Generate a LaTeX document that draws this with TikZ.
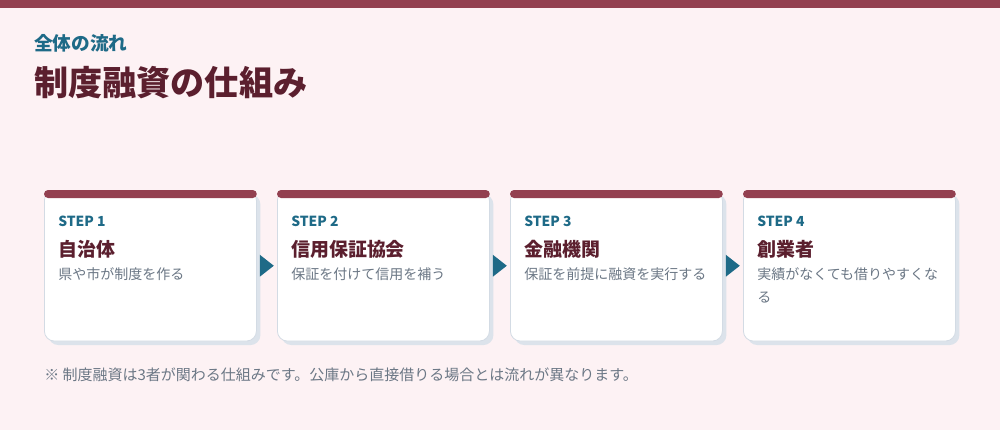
\documentclass[tikz,border=0pt]{standalone}
\usepackage{fontspec}
\setmainfont{Noto Sans CJK JP}
\usetikzlibrary{shadows}
\definecolor{bgc}{HTML}{FDF2F4}
\definecolor{barc}{HTML}{934050}
\definecolor{tealc}{HTML}{1E6A87}
\definecolor{titlec}{HTML}{5B1F2E}
\definecolor{greyc}{HTML}{6B7785}
\definecolor{borderc}{HTML}{D3DBE4}
\definecolor{shadowc}{HTML}{DCE3EB}
\tikzset{
  card/.style={anchor=north west, minimum width=159pt, minimum height=113pt, inner sep=0pt,
    rounded corners=7.5pt, fill=white, draw=borderc, line width=0.6pt,
    drop shadow={shadow xshift=3pt, shadow yshift=-3pt, fill=shadowc, opacity=1}},
  steplabel/.style={anchor=west, inner sep=0pt, text=tealc, font=\fontsize{10.4pt}{12pt}\selectfont\bfseries},
  cardtitle/.style={anchor=west, inner sep=0pt, text=titlec, font=\fontsize{14.2pt}{16pt}\selectfont\bfseries},
  carddesc/.style={anchor=north west, inner sep=0pt, text=greyc, align=left, font=\fontsize{10.5pt}{17.5pt}\selectfont},
  flowarrow/.style={fill=tealc}
}
\begin{document}
\begin{tikzpicture}[x=0.75pt,y=-0.75pt]
\useasboundingbox (0,0) rectangle (1000,430);
\fill[bgc] (0,0) rectangle (1000,430);
\fill[barc] (0,0) rectangle (1000,8);
\node[anchor=west, inner sep=0pt, text=tealc, font=\fontsize{14pt}{16pt}\selectfont\bfseries] (sub) at (34,43) {全体の流れ};
\node[anchor=west, inner sep=0pt, text=titlec, font=\fontsize{25.6pt}{30pt}\selectfont\bfseries] (title) at (34,83) {制度融資の仕組み};
\foreach \i/\x/\st/\tt/\dd in {
  1/44/STEP 1/自治体/県や市が制度を作る,
  2/277/STEP 2/信用保証協会/保証を付けて信用を補う,
  3/510/STEP 3/金融機関/保証を前提に融資を実行する,
  4/743/STEP 4/創業者/{実績がなくても借りやすくな\\る}}{
  \node[card] (c\i) at (\x,190) {};
  \fill[barc, rounded corners=3pt] (c\i.north west) rectangle ([yshift=-6pt]c\i.north east);
  \node[steplabel] (s\i) at (\x+14,221) {\st};
  \node[cardtitle] (t\i) at (\x+14,249) {\tt};
  \node[carddesc] (d\i) at (\x+14,267) {\dd};
}
\foreach \a/\b in {1/2,2/3,3/4}{
  \fill[flowarrow] ([xshift=2.25pt,yshift=8.25pt]c\a.east) -- ([xshift=2.25pt,yshift=-8.25pt]c\a.east) -- ([xshift=12.75pt]c\a.east) -- cycle;
}
\node[anchor=west, inner sep=0pt, text=greyc, font=\fontsize{11.25pt}{13pt}\selectfont] (note) at (44,375) {※ 制度融資は3者が関わる仕組みです。公庫から直接借りる場合とは流れが異なります。};
\end{tikzpicture}
\end{document}
